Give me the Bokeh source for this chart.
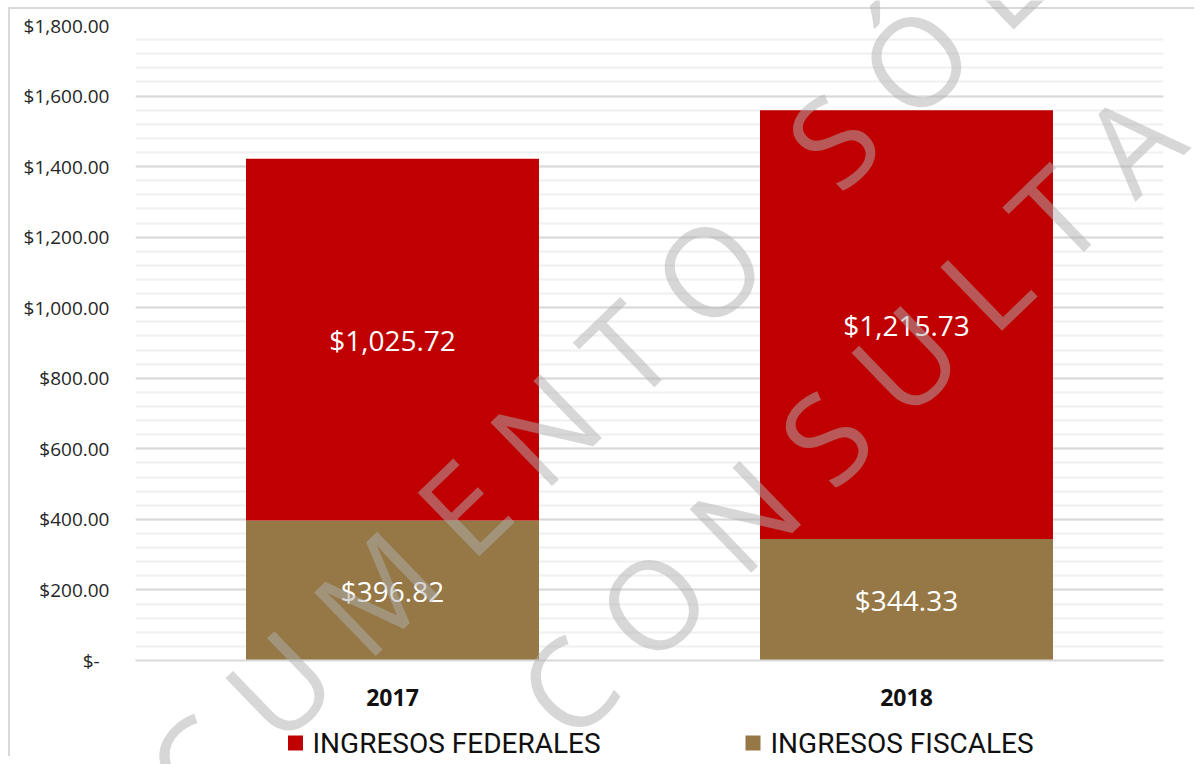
import math
from bokeh.plotting import figure
from bokeh.models import (ColumnDataSource, LabelSet, SingleIntervalTicker, Range1d)
from bokeh.core.properties import value
from bokeh.embed import file_html
from bokeh.resources import INLINE

# ---------------- data ----------------
years = ["2017", "2018"]
ingresos_fiscales = [396.82, 344.33]
ingresos_federales = [1025.72, 1215.73]
series_labels = ["INGRESOS FEDERALES", "INGRESOS FISCALES"]
y_ticks = [0, 200, 400, 600, 800, 1000, 1200, 1400, 1600, 1800]
y_tick_labels = ["$-\u00a0\u00a0", "$200.00", "$400.00", "$600.00", "$800.00",
                 "$1,000.00", "$1,200.00", "$1,400.00", "$1,600.00", "$1,800.00"]
watermark_lines = ["D O C U M E N T O", "S Ó L O", "C O N S U L T A"]

RED = "#C00000"
BROWN = "#957846"
series_colors = [RED, BROWN]

fis_mid = [f / 2 for f in ingresos_fiscales]
fed_mid = [f + d / 2 for f, d in zip(ingresos_fiscales, ingresos_federales)]
src = ColumnDataSource(dict(
    year=years,
    fiscales=ingresos_fiscales,
    federales=ingresos_federales,
    fis_mid=fis_mid,
    fed_mid=fed_mid,
    fis_txt=[f"${v:,.2f}" for v in ingresos_fiscales],
    fed_txt=[f"${v:,.2f}" for v in ingresos_federales],
))

p = figure(x_range=years, y_range=Range1d(0, 1800),
           frame_width=1028, frame_height=635,
           min_border_left=125, min_border_right=31, min_border_top=16, min_border_bottom=96,
           output_backend="svg", toolbar_location=None)
p.styles = {"margin-left": "8px", "margin-top": "7px",
            "border-left": "2px solid #d9d9d9", "border-top": "2px solid #d9d9d9"}
p.outline_line_color = None
p.background_fill_color = "white"
p.border_fill_color = "white"

p.vbar_stack(["fiscales", "federales"], x="year", width=0.57,
             color=[BROWN, RED], line_color=None, source=src)

# grid
p.xgrid.visible = False
p.yaxis.ticker = SingleIntervalTicker(interval=200, num_minor_ticks=5)
p.ygrid.grid_line_color = "#d9d9d9"
p.ygrid.grid_line_width = 2
p.ygrid.minor_grid_line_color = "#f0f0f0"
p.ygrid.minor_grid_line_width = 2

# y axis
p.yaxis.major_label_overrides = {t: l for t, l in zip(y_ticks, y_tick_labels)}
p.yaxis.axis_line_color = None
p.yaxis.major_tick_line_color = None
p.yaxis.minor_tick_line_color = None
p.yaxis.major_label_standoff = 20
p.yaxis.major_label_text_font = "Open Sans"
p.yaxis.major_label_text_font_size = "19px"
p.yaxis.major_label_text_color = "#262626"

# x axis
p.xaxis.axis_line_color = "#d9d9d9"
p.xaxis.axis_line_width = 2
p.xaxis.major_tick_line_color = None
p.xaxis.major_label_standoff = 22
p.xaxis.major_label_text_font = "Open Sans"
p.xaxis.major_label_text_font_size = "23px"
p.xaxis.major_label_text_font_style = "bold"
p.xaxis.major_label_text_color = "#111111"

# data labels
for ycol, tcol in (("fis_mid", "fis_txt"), ("fed_mid", "fed_txt")):
    p.add_layout(LabelSet(x="year", y=ycol, text=tcol, source=src,
                          text_align="center", text_baseline="middle",
                          text_color="white", text_font=value("Open Sans"),
                          text_font_size="28px"))

# overlay in page pixel coordinates: legend + watermark (not clipped to the plot frame)
wm = figure(x_range=Range1d(0, 1200), y_range=Range1d(764, 0), width=1200, height=764,
            min_border=0, x_axis_type=None, y_axis_type=None,
            output_backend="svg", toolbar_location=None)
wm.styles = {"position": "absolute", "left": "0px", "top": "0px", "pointer-events": "none"}
wm.outline_line_color = None
wm.background_fill_alpha = 0
wm.border_fill_alpha = 0
wm.grid.visible = False

# legend
leg_sq_x = [295, 752.5]
leg_txt_x = [312, 770]
wm.rect(x=leg_sq_x, y=[742.5, 742.5], width=15, height=15,
        fill_color=series_colors, line_color=None)
wm.text(x=leg_txt_x, y=[743, 743], text=series_labels, text_align="left",
        text_baseline="middle", text_font=value("Roboto"),
        text_font_size="28px", text_color="#111111")

# watermark
wm_x = [363, 958, 847]
wm_y = [600, 15, 412]
wm.text(x=wm_x, y=wm_y, text=watermark_lines, angle=math.radians(44),
        text_align="center", text_baseline="middle", text_font=value("Open Sans"),
        text_font_size="124px", text_color="#b0b0b0", text_alpha=0.5)

open("out.html", "w").write(file_html([p, wm], INLINE))
